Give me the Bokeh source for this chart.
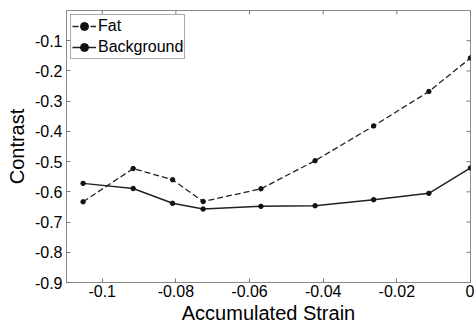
import math
from bokeh.plotting import figure
from bokeh.models import Range1d, FixedTicker, Legend, LegendItem
from bokeh.embed import file_html
from bokeh.resources import INLINE

strain = [-0.1052, -0.0916, -0.0809, -0.0726, -0.0569, -0.0422, -0.0263, -0.0113, 0.0]
fat = [-0.633, -0.523, -0.560, -0.632, -0.590, -0.497, -0.382, -0.268, -0.157]
background = [-0.572, -0.589, -0.638, -0.657, -0.648, -0.646, -0.626, -0.605, -0.521]
xticks = [-0.1, -0.08, -0.06, -0.04, -0.02, 0.0]
xlabels = ["-0.1", "-0.08", "-0.06", "-0.04", "-0.02", "0"]
yticks = [-0.9, -0.8, -0.7, -0.6, -0.5, -0.4, -0.3, -0.2, -0.1]
ylabels = ["-0.9", "-0.8", "-0.7", "-0.6", "-0.5", "-0.4", "-0.3", "-0.2", "-0.1"]
XMIN, XMAX, YMIN, YMAX = -0.1097, 0.0, -0.9, 0.0

FONT = "Liberation Sans"
AX = "#8a8a8a"

p = figure(width=474, height=326, output_backend="svg", toolbar_location=None,
           x_range=Range1d(XMIN, XMAX), y_range=Range1d(YMIN, YMAX),
           min_border_left=66, min_border_right=4, min_border_top=10, min_border_bottom=39)
p.grid.visible = False
p.outline_line_color = AX
p.outline_line_width = 1
p.background_fill_color = "white"
p.border_fill_color = "white"

for ax in (p.xaxis[0], p.yaxis[0]):
    ax.axis_line_color = AX
    ax.major_tick_line_color = "#777777"
    ax.major_tick_in = 4
    ax.major_tick_out = 0
    ax.minor_tick_line_color = None
    ax.major_label_text_font = FONT
    ax.major_label_text_font_size = "16px"
    ax.major_label_text_color = "black"
    ax.axis_label_text_font = FONT
    ax.axis_label_text_font_size = "20px"
    ax.axis_label_text_font_style = "normal"
    ax.axis_label_text_color = "black"

p.xaxis[0].ticker = FixedTicker(ticks=xticks)
p.xaxis[0].major_label_overrides = dict(zip(xticks, xlabels))
p.xaxis[0].axis_label = "Accumulated Strain"
p.xaxis[0].axis_label_standoff = 2
p.xaxis[0].major_label_standoff = 2
p.yaxis[0].ticker = FixedTicker(ticks=yticks)
p.yaxis[0].major_label_overrides = dict(zip(yticks, ylabels))
p.yaxis[0].axis_label = "Contrast"
p.yaxis[0].axis_label_standoff = 4
p.yaxis[0].major_label_standoff = 4

# mirrored inward ticks on the top and right edges (MATLAB box), from the tick arrays
p.ray(x=xticks, y=[YMAX] * len(xticks), length=4, length_units="screen",
      angle=-math.pi / 2, line_color="#777777", line_width=1)
p.ray(x=[XMAX] * len(yticks), y=yticks, length=4, length_units="screen",
      angle=math.pi, line_color="#777777", line_width=1)

l1 = p.line(strain, fat, line_color="#222222", line_width=1.3, line_dash="6 3")
m1 = p.scatter(strain, fat, marker="circle", size=4.5, fill_color="#111111", line_color="#111111")
l2 = p.line(strain, background, line_color="#222222", line_width=1.5)
m2 = p.scatter(strain, background, marker="circle", size=4.5, fill_color="#111111", line_color="#111111")

legend = Legend(items=[LegendItem(label="Fat", renderers=[l1, m1]),
                       LegendItem(label="Background", renderers=[l2, m2])],
                location="top_left")
legend.label_text_font = FONT
legend.label_text_font_size = "16px"
legend.label_text_color = "black"
legend.border_line_color = "#555555"
legend.border_line_width = 1
legend.margin = 4
legend.padding = 1
legend.spacing = 1
legend.glyph_width = 24
legend.glyph_height = 20
legend.label_standoff = 2
legend.label_height = 20
legend.background_fill_alpha = 1.0
p.add_layout(legend, "center")

open("out.html", "w").write(file_html(p, INLINE))
